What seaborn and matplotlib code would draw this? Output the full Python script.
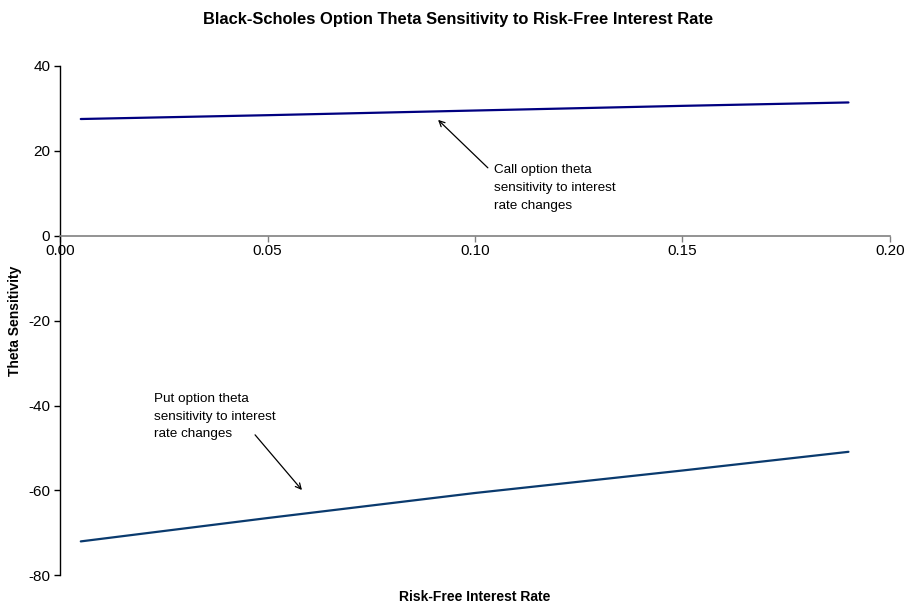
import matplotlib
matplotlib.use("Agg")
import matplotlib.pyplot as plt
import seaborn as sns
import pandas as pd

# Risk-free rates and option theta sensitivities
rates = [0.005, 0.05, 0.10, 0.15, 0.19]
call_theta = [27.5, 28.4, 29.5, 30.6, 31.4]
put_theta = [-72.0, -66.5, -60.6, -55.3, -50.9]

x_ticks = [0.00, 0.05, 0.10, 0.15, 0.20]
y_ticks = [-80, -60, -40, -20, 0, 20, 40]

sns.set_style("white")
plt.rcParams["font.family"] = ["Liberation Sans", "DejaVu Sans"]
plt.rcParams["text.color"] = "black"
plt.rcParams["xtick.color"] = "black"
plt.rcParams["ytick.color"] = "black"

df = pd.DataFrame({"rate": rates, "call": call_theta, "put": put_theta})

fig = plt.figure(figsize=(9.11, 6.05), dpi=100)
ax = fig.add_axes([0.0659, 0.049, 0.911, 0.842])

sns.lineplot(data=df, x="rate", y="call", ax=ax, color="#000080", linewidth=1.6)
sns.lineplot(data=df, x="rate", y="put", ax=ax, color="#0a3a6e", linewidth=1.6)

ax.set_xlim(0, 0.20)
ax.set_ylim(-80, 40)
ax.set_xticks(x_ticks)
ax.set_xticklabels([f"{v:.2f}" for v in x_ticks])
ax.set_yticks(y_ticks)
ax.set_yticklabels([str(v) for v in y_ticks])

ax.spines["top"].set_visible(False)
ax.spines["right"].set_visible(False)
ax.spines["bottom"].set_position(("data", 0))
ax.spines["bottom"].set_color("#808080")
ax.spines["bottom"].set_linewidth(1.2)
ax.spines["left"].set_color("black")
ax.spines["left"].set_linewidth(1.0)

ax.tick_params(axis="y", left=True, direction="out", length=4, width=1,
               color="black", labelcolor="black", labelsize=11, pad=3)
ax.tick_params(axis="x", bottom=True, direction="out", length=4, width=1,
               color="#808080", labelcolor="black", labelsize=11, pad=2)

ax.set_xlabel("")
ax.set_ylabel("")
fig.text(0.521, 0.013, "Risk-Free Interest Rate", ha="center", va="center",
         fontsize=10, fontweight="bold")
fig.text(0.016, 0.469, "Theta Sensitivity", ha="center", va="center",
         rotation=90, fontsize=10, fontweight="bold")
fig.text(0.503, 0.967, "Black-Scholes Option Theta Sensitivity to Risk-Free Interest Rate",
         ha="center", va="center", fontsize=11.9, fontweight="bold")

# Call annotation
ax.annotate("", xy=(0.0911, 27.3), xytext=(0.1031, 16.0),
            arrowprops=dict(arrowstyle="->", color="black", lw=0.9,
                            shrinkA=0, shrinkB=0))
ax.text(0.1046, 16.8, "Call option theta\nsensitivity to interest\nrate changes",
        ha="left", va="top", fontsize=9.7, linespacing=1.62)

# Put annotation
ax.annotate("", xy=(0.0583, -59.9), xytext=(0.047, -46.9),
            arrowprops=dict(arrowstyle="->", color="black", lw=0.9,
                            shrinkA=0, shrinkB=0))
ax.text(0.0227, -37.1, "Put option theta\nsensitivity to interest\nrate changes",
        ha="left", va="top", fontsize=9.7, linespacing=1.62)

fig.savefig("out.png", dpi=100)
